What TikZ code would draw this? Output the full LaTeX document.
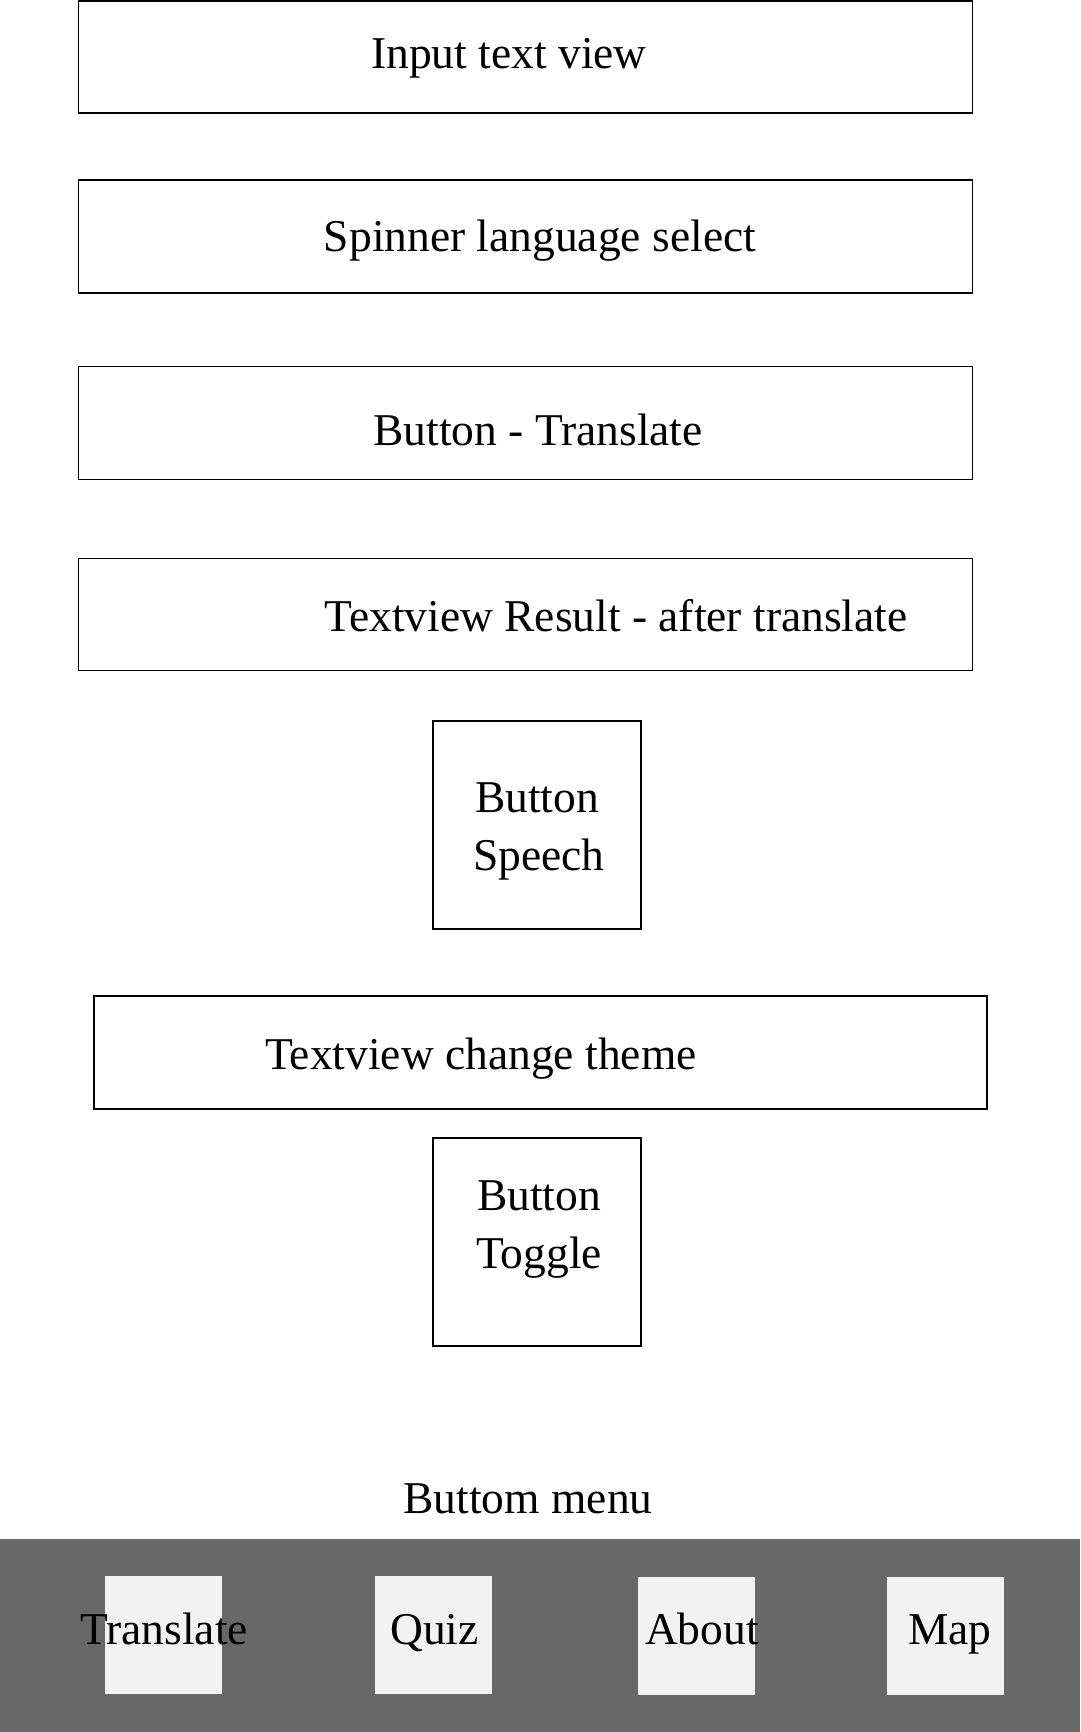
\documentclass[tikz,border=0pt]{standalone}
\usepackage{fontspec}
\setmainfont{Liberation Serif}
\definecolor{bargray}{RGB}{104,104,104}
\definecolor{tabgray}{RGB}{242,242,242}
\begin{document}
\begin{tikzpicture}[x=1pt,y=-1pt,
  frame/.style={draw=black,line width=1.1pt,fill=white,inner sep=0pt,outer sep=0pt},
  tab/.style={fill=tabgray,draw=none,inner sep=0pt,outer sep=0pt,minimum width=117pt,minimum height=118pt},
  lbl/.style={anchor=base,inner sep=0pt,font=\fontsize{45.5}{58}\selectfont}]
\useasboundingbox (0,0) rectangle (1080,1732);
\fill[white] (0,0) rectangle (1080,1732);
% boxes
\node[frame,minimum width=894pt,minimum height=112pt] (input) at (525.5,57) {};
\node[frame,minimum width=894pt,minimum height=113pt] (spinner) at (525.5,236.5) {};
\node[frame,minimum width=894pt,minimum height=113pt] (btrans) at (525.5,423) {};
\node[frame,minimum width=894pt,minimum height=112pt] (result) at (525.5,614.5) {};
\node[frame,minimum width=208pt,minimum height=208pt] (speech) at (537,825) {};
\node[frame,minimum width=893pt,minimum height=113pt] (theme) at (540.5,1052.5) {};
\node[frame,minimum width=208pt,minimum height=208pt] (toggle) at (537,1242) {};
% labels
\node[lbl] (tinput) at (509,68) {Input text view};
\node[lbl] (tspinner) at (540,251) {Spinner language select};
\node[lbl] (tbtrans) at (538,445) {Button - Translate};
\node[lbl] (tresult) at (616,631) {Textview Result - after translate};
\node[lbl] (tsp1) at (537,812) {Button};
\node[lbl] (tsp2) at (539,870) {Speech};
\node[lbl] (ttheme) at (481,1069) {Textview change theme};
\node[lbl] (ttg1) at (539,1210) {Button};
\node[lbl] (ttg2) at (539,1268) {Toggle};
\node[lbl] (tmenu) at (528,1513) {Buttom menu};
% bottom bar
\fill[bargray] (0,1539) rectangle (1080,1732);
\node[tab] (ttrans) at (163.5,1635) {};
\node[tab] (tquiz) at (433.5,1635) {};
\node[tab] (tabout) at (696,1636) {};
\node[tab] (tmap) at (945.5,1636) {};
\node[lbl] (ltrans) at (164,1644) {Translate};
\node[lbl] (lquiz) at (434.5,1644) {Quiz};
\node[lbl] (labout) at (702,1644) {About};
\node[lbl] (lmap) at (950,1644) {Map};
\end{tikzpicture}
\end{document}
